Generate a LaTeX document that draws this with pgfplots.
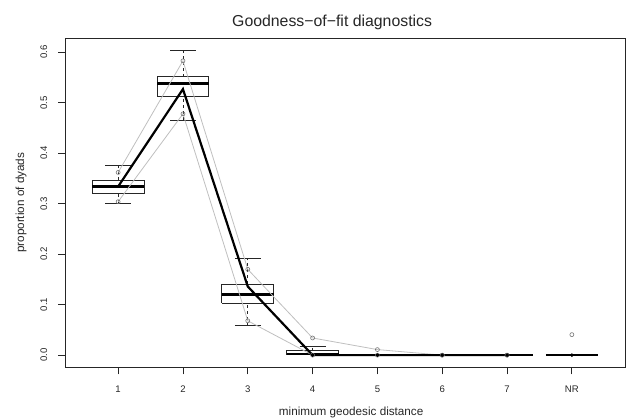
\documentclass[border=0pt]{standalone}
\usepackage{fontspec}
\setmainfont{Liberation Sans}
\usepackage{pgfplots}
\pgfplotsset{compat=1.18}
\begin{document}
\begin{tikzpicture}
\useasboundingbox (0,0) rectangle (628bp,418bp);
\begin{axis}[
  at={(65bp,50.7bp)}, anchor=south west,
  scale only axis, width=560bp, height=329bp,
  xmin=0.18, xmax=8.82, ymin=-0.0241, ymax=0.6277,
  axis line style={black!85, line width=0.8bp},
  tick style={black!85, line width=0.8bp},
  tick align=outside, major tick length=7bp,
  xtick pos=bottom, ytick pos=left,
  xtick={1,2,3,4,5,6,7,8},
  xticklabels={1,2,3,4,5,6,7,NR},
  ytick={0,0.1,0.2,0.3,0.4,0.5,0.6},
  yticklabels={0.0,0.1,0.2,0.3,0.4,0.5,0.6},
  ticklabel style={font=\fontsize{9.6}{11}\selectfont, text=black!85},
  xticklabel style={anchor=base, yshift=-18.4bp},
  yticklabel style={anchor=base, xshift=-11bp, rotate=90},
  title={Goodness−of−fit diagnostics},
  title style={at={(axis description cs:0.477,1)}, anchor=base, yshift=5.6bp, font=\fontsize{15.9}{19}\selectfont, text=black!85},
  xlabel={minimum geodesic distance},
  xlabel style={at={(axis description cs:0.511,0)}, anchor=base, yshift=-48.4bp, font=\fontsize{11.75}{14}\selectfont, text=black!85},
  ylabel={proportion of dyads},
  ylabel style={at={(axis description cs:-0.0732,0.5)}, anchor=base, font=\fontsize{11.75}{14}\selectfont, text=black!85},
  unbounded coords=jump,
]
% boxes (lower and upper quartiles)
\addplot[black!85, line width=0.8bp, mark=none] coordinates {
  (0.6,0.320) (1.4,0.320) (1.4,0.346) (0.6,0.346) (0.6,0.320) (1,nan)
  (1.6,0.513) (2.4,0.513) (2.4,0.552) (1.6,0.552) (1.6,0.513) (2,nan)
  (2.6,0.103) (3.4,0.103) (3.4,0.140) (2.6,0.140) (2.6,0.103) (3,nan)
  (3.6,0.001) (4.4,0.001) (4.4,0.009) (3.6,0.009) (3.6,0.001)
};
% whiskers (dashed)
\addplot[black!85, line width=0.8bp, dash pattern=on 3bp off 3bp, mark=none] coordinates {
  (1,0.301) (1,0.320) (1,nan) (1,0.346) (1,0.375) (1,nan)
  (2,0.466) (2,0.513) (2,nan) (2,0.552) (2,0.6036) (2,nan)
  (3,0.058) (3,0.103) (3,nan) (3,0.140) (3,0.191) (3,nan)
  (4,0.009) (4,0.017)
};
% whisker caps
\addplot[black!85, line width=0.8bp, mark=none] coordinates {
  (0.8,0.301) (1.2,0.301) (1,nan) (0.8,0.375) (1.2,0.375) (1,nan)
  (1.8,0.466) (2.2,0.466) (2,nan) (1.8,0.6036) (2.2,0.6036) (2,nan)
  (2.8,0.058) (3.2,0.058) (3,nan) (2.8,0.191) (3.2,0.191) (3,nan)
  (3.8,0.017) (4.2,0.017)
};
% medians
\addplot[black, line width=2.2bp, mark=none] coordinates {
  (0.6,0.334) (1.4,0.334) (1,nan)
  (1.6,0.538) (2.4,0.538) (2,nan)
  (2.6,0.120) (3.4,0.120) (3,nan)
  (3.6,0.003) (4.4,0.003) (4,nan)
  (4.6,0) (5.4,0) (5,nan)
  (5.6,0) (6.4,0) (6,nan)
  (6.6,0) (7.4,0) (7,nan)
  (7.6,0) (8.4,0)
};
% grey quantile lines
\addplot[black!25, line width=0.8bp, mark=o, mark size=2bp, mark options={black!55, line width=0.6bp}] coordinates {
  (1,0.362) (2,0.583) (3,0.170) (4,0.034) (5,0.011) (6,0) (7,0)
};
\addplot[black!25, line width=0.8bp, mark=o, mark size=2bp, mark options={black!55, line width=0.6bp}] coordinates {
  (1,0.304) (2,0.478) (3,0.068) (4,0.0) (5,0) (6,0) (7,0)
};
\addplot[only marks, mark=o, mark size=2bp, mark options={black!55, line width=0.6bp}] coordinates {(8,0.0406)};
% observed
\addplot[black, line width=2.2bp, mark=none] coordinates {
  (1,0.334) (2,0.527) (3,0.136) (4,0) (5,0) (6,0) (7,0)
};
\addplot[only marks, mark=*, mark size=1.6bp, black] coordinates {(4,0) (5,0) (6,0) (7,0) (8,0)};
\end{axis}
\end{tikzpicture}
\end{document}
